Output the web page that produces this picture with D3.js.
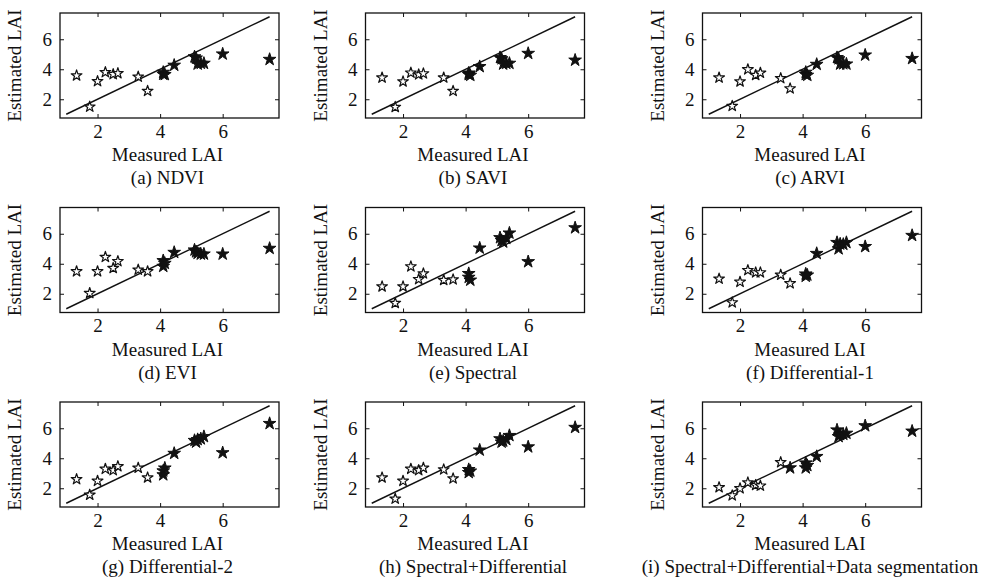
<!DOCTYPE html>
<html><head><meta charset="utf-8">
<script src="https://cdn.jsdelivr.net/npm/d3@7"></script>
<style>html,body{margin:0;padding:0;background:#fff}</style>
</head><body><svg id="chart" width="988" height="580"></svg>
<script>
// ---- data ----
const measuredLAI = [1.33, 1.75, 2.0, 2.25, 2.5, 2.65, 3.3, 3.6, 4.1, 4.1, 4.15, 4.45, 5.1, 5.15, 5.2, 5.3, 5.4, 6.0, 7.5];
const estNDVI   = [3.63, 1.55, 3.25, 3.85, 3.72, 3.78, 3.55, 2.60, 3.72, 3.85, 3.70, 4.32, 4.88, 4.80, 4.40, 4.45, 4.45, 5.07, 4.71];
const estSAVI   = [3.49, 1.53, 3.23, 3.82, 3.70, 3.77, 3.49, 2.60, 3.70, 3.80, 3.65, 4.23, 4.83, 4.75, 4.40, 4.45, 4.45, 5.11, 4.66];
const estARVI   = [3.49, 1.60, 3.23, 4.04, 3.66, 3.81, 3.45, 2.77, 3.70, 3.85, 3.65, 4.38, 4.83, 4.75, 4.40, 4.42, 4.40, 5.00, 4.77];
const estEVI    = [3.54, 2.09, 3.54, 4.50, 3.76, 4.22, 3.65, 3.54, 3.88, 4.26, 4.08, 4.81, 4.97, 4.85, 4.75, 4.70, 4.70, 4.70, 5.08];
const estSpec   = [2.53, 1.43, 2.53, 3.87, 3.02, 3.40, 2.96, 3.00, 3.40, 3.15, 2.96, 5.10, 5.79, 5.60, 5.50, 5.75, 6.10, 4.19, 6.45];
const estDiff1  = [3.05, 1.47, 2.84, 3.62, 3.47, 3.47, 3.31, 2.74, 3.37, 3.22, 3.30, 4.74, 5.47, 5.05, 5.37, 5.35, 5.47, 5.20, 5.94];
const estDiff2  = [2.65, 1.61, 2.54, 3.34, 3.25, 3.51, 3.41, 2.76, 3.21, 2.95, 3.40, 4.38, 5.24, 5.13, 5.30, 5.35, 5.50, 4.42, 6.37];
const estSpecDiff = [2.76, 1.35, 2.54, 3.34, 3.25, 3.41, 3.30, 2.70, 3.10, 3.30, 3.20, 4.60, 5.35, 5.13, 5.20, 5.30, 5.57, 4.81, 6.11];
const estSpecDiffSeg = [2.11, 1.57, 2.04, 2.43, 2.26, 2.22, 3.78, 3.41, 3.74, 3.41, 3.57, 4.17, 5.94, 5.50, 5.63, 5.65, 5.72, 6.22, 5.86];
const panelTitles = ["(a) NDVI", "(b) SAVI", "(c) ARVI", "(d) EVI", "(e) Spectral", "(f) Differential-1",
                     "(g) Differential-2", "(h) Spectral+Differential", "(i) Spectral+Differential+Data segmentation"];
const panelSeries = [estNDVI, estSAVI, estARVI, estEVI, estSpec, estDiff1, estDiff2, estSpecDiff, estSpecDiffSeg];
const filledFrom = [4, 4, 4, 4, 4, 4, 4, 4, 3.5];   // measured LAI from which the marker is solid
const xTicks = [2, 4, 6];
const yTicks = [2, 4, 6];
const xDomain = [0.8, 7.8];
const yDomain = [0.75, 7.75];
const oneToOne = [1, 7.5];
const xLabel = "Measured LAI";
const yLabel = "Estimated LAI";

// ---- layout ----
const colLeft = [60, 365.5, 702.5];
const rowTop = [13, 207.5, 402];
const W = 219, H = 105;
const font = "'Liberation Serif','Times New Roman',serif";
const ink = "#111";
const svg = d3.select("#chart");
svg.append("rect").attr("width", 988).attr("height", 580).attr("fill", "#fff");

const x = d3.scaleLinear().domain(xDomain).range([0, W]);
const y = d3.scaleLinear().domain(yDomain).range([H, 0]);
const star = d3.symbol().type(d3.symbolStar);
const fmt = d3.format("d");

panelSeries.forEach((vals, i) => {
  const g = svg.append("g").attr("transform", `translate(${colLeft[i % 3]},${rowTop[Math.floor(i / 3)]})`);
  const pts = measuredLAI.map((m, k) => ({ m, e: vals[k] }));

  // axes with inward ticks on all four sides
  const tick = 4;
  const axB = d3.axisBottom(x).tickValues(xTicks).tickFormat(fmt).tickSizeInner(-tick).tickSizeOuter(0).tickPadding(6);
  const axT = d3.axisTop(x).tickValues(xTicks).tickSizeInner(-tick).tickSizeOuter(0).tickFormat("");
  const axL = d3.axisLeft(y).tickValues(yTicks).tickFormat(fmt).tickSizeInner(-tick).tickSizeOuter(0).tickPadding(8);
  const axR = d3.axisRight(y).tickValues(yTicks).tickSizeInner(-tick).tickSizeOuter(0).tickFormat("");
  const gb = g.append("g").attr("transform", `translate(0,${H})`).call(axB);
  g.append("g").call(axT);
  g.append("g").call(axL);
  g.append("g").attr("transform", `translate(${W},0)`).call(axR);
  g.selectAll(".domain").remove();
  g.selectAll(".tick line").attr("stroke", ink).attr("stroke-width", 1);
  g.selectAll(".tick text").attr("fill", ink).style("font-family", font).style("font-size", "19px");
  gb.selectAll(".tick text").attr("dy", "0.72em");

  g.append("rect").attr("width", W).attr("height", H)
    .attr("fill", "none").attr("stroke", ink).attr("stroke-width", 1.3);

  // 1:1 line
  g.append("line")
    .attr("x1", x(oneToOne[0])).attr("y1", y(oneToOne[0]))
    .attr("x2", x(oneToOne[1])).attr("y2", y(oneToOne[1]))
    .attr("stroke", ink).attr("stroke-width", 1.4);

  // stars
  g.selectAll("path.pt").data(pts).join("path")
    .attr("class", "pt")
    .attr("transform", d => `translate(${x(d.m)},${y(d.e) + 0.8})`)
    .attr("d", d => star.size(d.m >= filledFrom[i] ? 50 : 36)())
    .attr("fill", d => d.m >= filledFrom[i] ? ink : "#fff")
    .attr("stroke", ink)
    .attr("stroke-width", d => d.m >= filledFrom[i] ? 1 : 1.2)
    .attr("stroke-linejoin", "round");

  // labels
  g.append("text").attr("x", W / 2 - 2).attr("y", H + 43)
    .attr("text-anchor", "middle").attr("fill", ink)
    .style("font-family", font).style("font-size", "19px").text(xLabel);
  g.append("text").attr("x", W / 2 - 2).attr("y", H + 66)
    .attr("text-anchor", "middle").attr("fill", ink)
    .style("font-family", font).style("font-size", "19px").text(panelTitles[i]);
  g.append("text")
    .attr("transform", `translate(${-39},${H / 2}) rotate(-90)`)
    .attr("text-anchor", "middle").attr("fill", ink)
    .style("font-family", font).style("font-size", "19px").text(yLabel);
});
</script>
</body></html>
